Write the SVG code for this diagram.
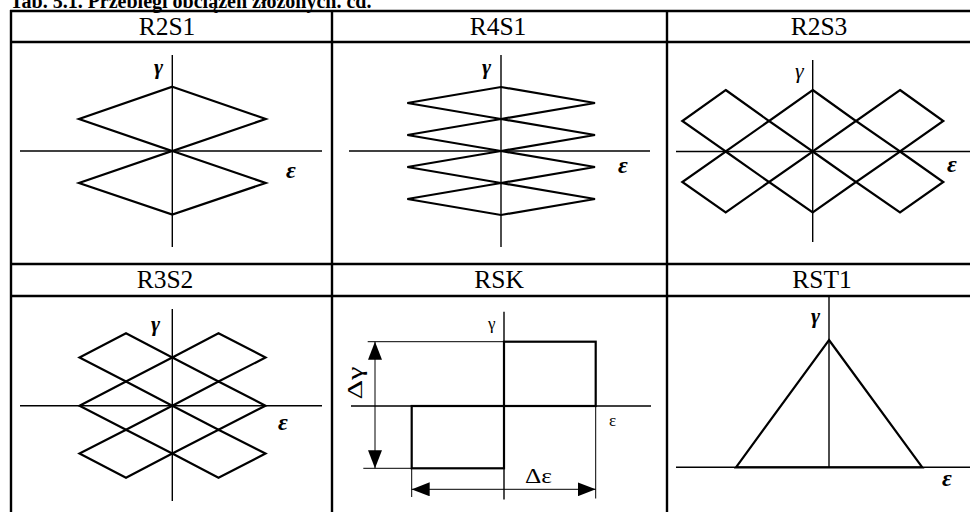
<svg xmlns="http://www.w3.org/2000/svg" width="970" height="512" viewBox="0 0 970 512">
<style>
.grid{stroke:#000;stroke-width:2.4;fill:none}
.axis{stroke:#000;stroke-width:1.4;fill:none}
.thin{stroke:#000;stroke-width:1;fill:none}
.shape{stroke:#000;stroke-width:2.2;fill:none;stroke-linejoin:miter}
.title{font-family:"Liberation Serif","DejaVu Serif",serif;font-weight:bold;font-size:20px}
.hdr{font-family:"Liberation Serif","DejaVu Serif",serif;font-size:25.5px;text-anchor:middle}
.lbl{font-family:"Liberation Serif","DejaVu Serif",serif;font-style:italic;font-weight:bold;font-size:22px}
.eps{font-family:"Liberation Serif","DejaVu Serif",serif;font-style:italic;font-weight:bold;font-size:24px}
.lbli{font-family:"Liberation Serif","DejaVu Serif",serif;font-style:italic;font-size:22px}
.lblr{font-family:"Liberation Serif","DejaVu Serif",serif;font-size:17px}
.dlt{font-family:"Liberation Serif","DejaVu Serif",serif;font-size:21px}
</style>
<defs>
<marker id="ah" viewBox="0 0 18 14" refX="18" refY="7" markerWidth="18" markerHeight="14" markerUnits="userSpaceOnUse" orient="auto-start-reverse">
<path d="M0,0 L18,7 L0,14 z" fill="#000"/>
</marker>
</defs>
<rect width="970" height="512" fill="#fff"/>
<text class="title" x="10" y="7.5">Tab. 5.1. Przebiegi obciążeń złożonych. cd.</text>
<g id="table">
<line class="grid" x1="10" y1="11" x2="970" y2="11"/>
<line class="grid" x1="10" y1="42" x2="970" y2="42"/>
<line class="grid" x1="10" y1="264" x2="970" y2="264"/>
<line class="grid" x1="10" y1="296" x2="970" y2="296"/>
<line class="grid" x1="11" y1="10" x2="11" y2="512"/>
<line class="grid" x1="332" y1="10" x2="332" y2="512"/>
<line class="grid" x1="667" y1="10" x2="667" y2="512"/>
<text class="hdr" x="167" y="35">R2S1</text>
<text class="hdr" x="498" y="35">R4S1</text>
<text class="hdr" x="819" y="35">R2S3</text>
<text class="hdr" x="165" y="288">R3S2</text>
<text class="hdr" x="499" y="288">RSK</text>
<text class="hdr" x="822" y="288">RST1</text>
</g>
<g id="R2S1">
<line class="axis" x1="172.3" y1="55" x2="172.3" y2="247"/>
<line class="axis" x1="20" y1="151" x2="322" y2="151"/>
<polygon class="shape" points="172.3,86.7 265.7,119 172.3,151 79,119"/>
<polygon class="shape" points="172.3,151 265.7,183 172.3,214.5 79,183"/>
<text class="lbl" x="154" y="74">γ</text>
<text class="eps" x="286" y="178">ε</text>
</g>
<g id="R4S1">
<line class="axis" x1="501" y1="55" x2="501" y2="247"/>
<line class="axis" x1="349" y1="151" x2="650" y2="151"/>
<polygon class="shape" points="501,87 595,103 501,119 407.3,103"/>
<polygon class="shape" points="501,119 595,135 501,151 407.3,135"/>
<polygon class="shape" points="501,151 595,167 501,183 407.3,167"/>
<polygon class="shape" points="501,183 595,199 501,215 407.3,199"/>
<text class="lbl" x="482" y="74">γ</text>
<text class="eps" x="618" y="173">ε</text>
</g>
<g id="R2S3">
<line class="axis" x1="812.7" y1="60" x2="812.7" y2="242"/>
<line class="axis" x1="676" y1="151.5" x2="970" y2="151.5"/>
<polygon class="shape" points="725.7,90 769,121 725.7,151.5 682.3,121"/>
<polygon class="shape" points="812.7,90 856,121 812.7,151.5 769,121"/>
<polygon class="shape" points="900,90 943.3,121 900,151.5 856,121"/>
<polygon class="shape" points="725.7,151.5 769,182 725.7,212.5 682.3,182"/>
<polygon class="shape" points="812.7,151.5 856,182 812.7,212.5 769,182"/>
<polygon class="shape" points="900,151.5 943.3,182 900,212.5 856,182"/>
<text class="lbli" x="795" y="78">γ</text>
<text class="eps" x="947" y="172">ε</text>
</g>
<g id="R3S2">
<line class="axis" x1="172.3" y1="309" x2="172.3" y2="501"/>
<line class="axis" x1="20" y1="405.7" x2="322" y2="405.7"/>
<polygon class="shape" points="126,333.3 172.3,357.5 126,381.6 79.5,357.5"/>
<polygon class="shape" points="218.5,333.3 265.5,357.5 218.5,381.6 172.3,357.5"/>
<polygon class="shape" points="126,381.6 172.3,405.7 126,429.7 79.5,405.7"/>
<polygon class="shape" points="218.5,381.6 265.5,405.7 218.5,429.7 172.3,405.7"/>
<polygon class="shape" points="126,429.7 172.3,453.5 126,477.7 79.5,453.5"/>
<polygon class="shape" points="218.5,429.7 265.5,453.5 218.5,477.7 172.3,453.5"/>
<text class="lbl" x="151" y="331">γ</text>
<text class="eps" x="278" y="430">ε</text>
</g>
<g id="RSK">
<line class="axis" x1="504" y1="311.7" x2="504" y2="499.5"/>
<line class="axis" x1="351" y1="406" x2="651" y2="406"/>
<line class="thin" x1="367.7" y1="341.7" x2="504" y2="341.7"/>
<line class="thin" x1="363.3" y1="468.3" x2="411.7" y2="468.3"/>
<line class="thin" x1="411.7" y1="468.3" x2="411.7" y2="497"/>
<line class="thin" x1="595.7" y1="406" x2="595.7" y2="498.5"/>
<rect class="shape" x="504" y="341.7" width="91.7" height="64.3"/>
<rect class="shape" x="411.7" y="406" width="92.3" height="62.3"/>
<text class="lblr" x="488" y="329">γ</text>
<text class="lblr" x="609" y="426">ε</text>
<text class="dlt" x="525" y="483" textLength="27" lengthAdjust="spacingAndGlyphs">Δε</text>
<text class="dlt" transform="translate(362,383) rotate(-90)" text-anchor="middle" textLength="33" lengthAdjust="spacingAndGlyphs">Δγ</text>
</g>
<g id="RST1">
<line class="axis" x1="829" y1="297" x2="829" y2="467.3"/>
<line class="axis" x1="676" y1="467.3" x2="970" y2="467.3"/>
<polygon class="shape" points="829,340 922.3,467.3 736,467.3"/>
<text class="lbl" x="811" y="323">γ</text>
<text class="eps" x="942" y="486">ε</text>
</g>
<g id="connectors">
<line class="thin" x1="375" y1="341.7" x2="375" y2="468.3" marker-start="url(#ah)" marker-end="url(#ah)"/>
<line class="thin" x1="411.7" y1="489.3" x2="595.7" y2="489.3" marker-start="url(#ah)" marker-end="url(#ah)"/>
</g>
</svg>
